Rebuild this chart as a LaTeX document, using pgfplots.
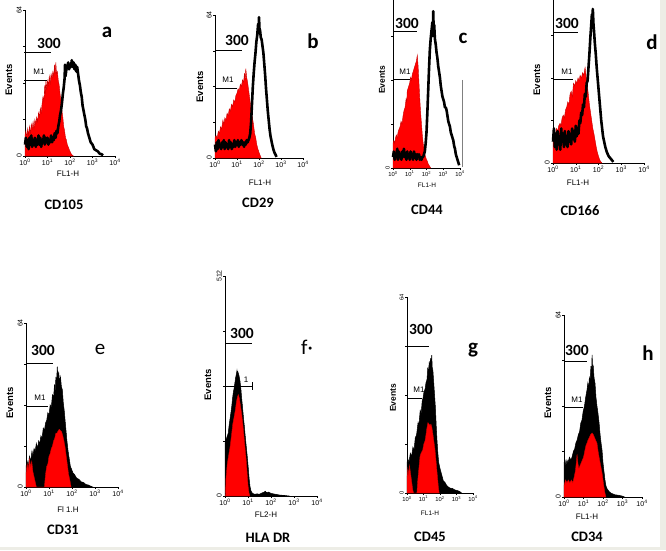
\documentclass[border=0pt]{standalone}
\usepackage{pgfplots}
\pgfplotsset{compat=1.18}
\usepackage{fontspec}
\setmainfont{Carlito}
\newfontfamily\arial{Liberation Sans}

\definecolor{edge}{HTML}{EDEDE6}

\pgfplotsset{
  flow/.style={
    scale only axis, anchor=south west,
    xmin=0, xmax=4, ymin=0, clip=false,
    axis x line*=bottom, axis y line*=left,
    axis line style={line width=0.8pt},
    xtick={0,1,2,3,4},
    xticklabels={10\textsuperscript{0},10\textsuperscript{1},10\textsuperscript{2},10\textsuperscript{3},10\textsuperscript{4}},
    ytick={0,16,32,48,64}, yticklabels={0,,,,64},
    tick style={black, line width=0.5pt},
    major tick length=2pt, tick align=outside,
    xticklabel style={font=\arial\fontsize{7}{8}\selectfont, inner sep=1pt},
    yticklabel style={font=\arial\fontsize{7}{8}\selectfont, rotate=90, anchor=south, inner sep=1pt},
  },
  smallticks/.style={
    xticklabel style={font=\arial\fontsize{5.8}{6.5}\selectfont},
    yticklabel style={font=\arial\fontsize{5.8}{6.5}\selectfont},
  },
  redh/.style={fill=red, draw=red!80!black, line width=0.4pt},
  blkline/.style={black, line width=2.6pt, line join=round},
  blkfill/.style={fill=black, draw=black, line width=0.5pt},
}

% text helpers, positions in pixels from the top left
\newcommand\cdlab[3]{\node[font=\bfseries\fontsize{14.5}{16}\selectfont] at (#1,{550-#2}) {#3};}
\newcommand\hund[5]{\draw[line width=1pt] (#1,{550-#3}) -- (#2,{550-#3});
  \node[font=\bfseries\fontsize{15.5}{17}\selectfont] at (#4,{550-#5}) {300};}
\newcommand\mone[5]{\draw[line width=0.8pt] (#1,{550-#3}) -- (#2,{550-#3});
  \node[font=\arial\fontsize{8}{9}\selectfont] at (#4,{550-#5}) {M1};}
\newcommand\plet[4]{\node[font=#4\fontsize{21}{23}\selectfont] at (#1,{550-#2}) {#3};}
\newcommand\evt[3]{\node[rotate=90,font=\arial\bfseries\fontsize{#3}{10}\selectfont] at (#1,{550-#2}) {Events};}
\newcommand\flh[4]{\node[font=\arial\fontsize{#4}{9}\selectfont] at (#1,{550-#2}) {#3};}

\begin{document}
\begin{tikzpicture}[x=1pt,y=1pt]
\useasboundingbox (0,0) rectangle (666,550);
\clip (0,0) rectangle (666,550);
\fill[white] (0,0) rectangle (666,550);
\fill[edge] (660,0) rectangle (666,550);
\fill[edge] (0,0) rectangle (666,3.5);

% ---------- a: CD105
\begin{axis}[flow, at={(25pt,394pt)}, width=90pt, height=146pt, ymax=64]
\addplot[redh] coordinates {(0,0)(0,9)(0.04,11)(0.08,8)(0.12,12)(0.16,9)(0.2,13)(0.24,10)(0.28,14)(0.32,12)(0.36,15)(0.4,12)(0.44,16)(0.48,14)(0.52,17)(0.56,15)(0.6,19)(0.64,17)(0.68,21)(0.72,19)(0.76,23)(0.8,26)(0.84,24)(0.88,31)(0.9,27)(0.93,33)(0.97,29)(1.0,33)(1.04,31)(1.08,35)(1.12,32)(1.16,36)(1.2,34)(1.24,37)(1.28,35)(1.31,40)(1.34,36)(1.37,41)(1.4,36)(1.44,37)(1.48,33)(1.52,31)(1.56,27)(1.6,24)(1.64,20)(1.68,17)(1.72,13)(1.76,11)(1.8,8)(1.84,7)(1.88,5)(1.92,4)(1.96,3)(2.0,2)(2.05,1)(2.1,0.4)(2.15,0)} \closedcycle;
\addplot[blkline] coordinates {(0,5)(0.04,8)(0.08,4)(0.12,7)(0.16,3)(0.2,8)(0.24,5)(0.28,9)(0.32,4)(0.36,7)(0.4,5)(0.44,8)(0.48,4)(0.52,7)(0.56,5)(0.6,9)(0.64,5)(0.68,8)(0.72,4)(0.76,7)(0.8,6)(0.84,9)(0.88,5)(0.92,8)(0.96,6)(1.0,8)(1.04,5)(1.08,7)(1.12,6)(1.16,9)(1.2,6)(1.24,8)(1.28,7)(1.32,10)(1.36,8)(1.4,11)(1.44,10)(1.48,13)(1.52,15)(1.56,18)(1.6,20)(1.64,23)(1.68,27)(1.72,30)(1.76,34)(1.78,40)(1.8,35)(1.84,38)(1.88,39)(1.92,41)(1.96,38)(2.0,40)(2.04,39)(2.08,42)(2.12,39)(2.16,41)(2.2,38)(2.24,40)(2.28,37)(2.32,39)(2.36,36)(2.4,33)(2.44,31)(2.48,28)(2.52,26)(2.56,22)(2.6,20)(2.64,18)(2.68,16)(2.72,13)(2.76,12)(2.8,10)(2.86,8)(2.92,6)(3.0,5)(3.08,3)(3.16,2.5)(3.24,2)(3.32,1)(3.4,0.8)(3.47,0.3)};
\end{axis}

% ---------- b: CD29
\begin{axis}[flow, at={(215pt,392pt)}, width=88pt, height=143pt, ymax=64]
\addplot[redh] coordinates {(0,0)(0,9)(0.05,10)(0.1,9)(0.15,12)(0.2,11)(0.25,14)(0.3,13)(0.36,17)(0.4,15)(0.45,18)(0.5,17)(0.55,20)(0.6,19)(0.65,22)(0.7,21)(0.75,24)(0.8,23)(0.85,26)(0.9,25)(0.95,28)(1.0,29)(1.05,31)(1.1,30)(1.15,33)(1.2,32)(1.25,35)(1.3,34)(1.34,38)(1.37,35)(1.4,40)(1.44,36)(1.48,34)(1.52,31)(1.56,28)(1.6,25)(1.65,21)(1.7,18)(1.75,15)(1.8,11)(1.85,9)(1.9,6)(1.95,4)(2.0,2.5)(2.05,1.2)(2.1,0)} \closedcycle;
\addplot[blkline] coordinates {(0,6)(0.04,3)(0.08,7)(0.12,4)(0.16,8)(0.2,5)(0.24,6)(0.28,4)(0.32,7)(0.36,5)(0.4,8)(0.44,4)(0.48,7)(0.52,5)(0.56,6)(0.6,4)(0.64,8)(0.68,5)(0.72,7)(0.76,4)(0.8,6)(0.84,5)(0.88,8)(0.92,5)(0.96,7)(1.0,6)(1.04,8)(1.08,5)(1.12,7)(1.16,6)(1.2,8)(1.24,6)(1.28,7)(1.32,5)(1.36,7)(1.4,6)(1.44,8)(1.48,7)(1.52,8)(1.56,9)(1.6,11)(1.64,16)(1.68,24)(1.72,32)(1.76,38)(1.8,43)(1.84,47)(1.88,52)(1.92,55)(1.96,60)(1.98,56)(2.0,63)(2.02,58)(2.05,57)(2.08,54)(2.12,53)(2.16,50)(2.2,47)(2.24,42)(2.28,37)(2.32,31)(2.36,26)(2.4,21)(2.44,17)(2.48,13)(2.52,10)(2.56,8)(2.6,6)(2.65,4)(2.7,2.5)(2.75,1.5)(2.8,0.5)};
\end{axis}

% ---------- c: CD44 (top runs off the page)
\begin{axis}[flow, smallticks, at={(393pt,382pt)}, width=67pt, height=176pt, ymax=64, yticklabels={0}]
\addplot[redh] coordinates {(0,0)(0,9)(0.05,10)(0.1,9)(0.15,11)(0.2,12)(0.25,11)(0.3,13)(0.35,14)(0.42,15)(0.48,17)(0.54,16)(0.6,19)(0.66,21)(0.72,22)(0.78,25)(0.82,24)(0.85,28)(0.9,29)(0.95,30)(1.0,31)(1.05,33)(1.1,32)(1.15,34)(1.2,35)(1.25,36)(1.3,37)(1.35,38)(1.4,39)(1.45,41)(1.5,37)(1.55,31)(1.6,25)(1.65,20)(1.7,16)(1.75,12)(1.8,9)(1.85,7)(1.9,5)(1.95,4)(2.0,3)(2.05,2.5)(2.1,1.5)(2.15,1)(2.2,0.5)(2.25,0)} \closedcycle;
\addplot[blkline] coordinates {(0,4)(0.05,6)(0.1,3)(0.15,5)(0.2,4)(0.25,7)(0.3,3)(0.35,6)(0.4,4)(0.45,5)(0.5,3)(0.55,6)(0.6,4)(0.65,7)(0.7,4)(0.75,5)(0.8,3)(0.85,6)(0.9,4)(0.95,5)(1.0,3)(1.05,6)(1.1,4)(1.15,5)(1.2,3)(1.25,6)(1.3,4)(1.35,5)(1.4,3)(1.45,5)(1.5,4)(1.55,5)(1.6,3)(1.65,4)(1.7,3)(1.75,4)(1.8,4)(1.85,5)(1.9,6)(1.95,9)(2.0,13)(2.05,20)(2.1,28)(2.15,36)(2.2,43)(2.25,47)(2.3,50)(2.35,53)(2.38,48)(2.4,57)(2.43,50)(2.46,52)(2.5,47)(2.55,45)(2.6,42)(2.65,40)(2.7,37)(2.75,35)(2.8,33)(2.85,30)(2.9,28)(2.95,26)(3.0,25)(3.05,24)(3.1,22)(3.15,22)(3.2,21)(3.25,19)(3.3,17)(3.35,16)(3.4,15)(3.45,13)(3.5,12)(3.55,11)(3.6,10)(3.65,8)(3.7,7)(3.75,5)(3.8,4)(3.85,3)(3.9,2)(3.95,1)};
\end{axis}

% ---------- d: CD166 (top runs off the page)
\begin{axis}[flow, at={(553pt,387pt)}, width=91pt, height=170pt, ymax=64, yticklabels={0}]
\addplot[redh] coordinates {(0,0)(0,11)(0.05,12)(0.1,10)(0.15,13)(0.2,12)(0.25,14)(0.31,15)(0.35,14)(0.4,17)(0.45,18)(0.5,17)(0.55,20)(0.6,21)(0.65,23)(0.7,22)(0.75,26)(0.8,27)(0.85,25)(0.9,30)(0.95,29)(1.0,31)(1.05,30)(1.1,32)(1.15,31)(1.19,33)(1.25,32)(1.3,34)(1.35,33)(1.41,36)(1.45,33)(1.5,30)(1.55,26)(1.6,22)(1.65,19)(1.7,16)(1.75,13)(1.8,11)(1.85,8.5)(1.9,6)(1.95,4)(2.0,2.5)(2.05,1.2)(2.1,0.5)(2.15,0)} \closedcycle;
\addplot[blkline] coordinates {(0,8)(0.04,13)(0.08,6)(0.12,11)(0.16,5)(0.2,12)(0.24,7)(0.28,10)(0.32,5)(0.36,13)(0.4,8)(0.44,11)(0.48,6)(0.52,12)(0.56,7)(0.6,10)(0.64,6)(0.68,12)(0.72,8)(0.76,11)(0.8,7)(0.84,13)(0.88,9)(0.92,12)(0.96,8)(1.0,14)(1.04,10)(1.08,13)(1.12,11)(1.16,16)(1.2,15)(1.24,19)(1.28,18)(1.32,22)(1.36,21)(1.4,26)(1.44,25)(1.48,30)(1.52,31)(1.56,36)(1.6,41)(1.64,47)(1.68,52)(1.71,56)(1.73,51)(1.75,58)(1.78,52)(1.8,50)(1.84,45)(1.88,41)(1.92,36)(1.96,32)(2.0,28)(2.04,24)(2.08,20)(2.12,16)(2.16,13)(2.2,10)(2.25,8)(2.3,6)(2.37,4)(2.45,2.5)(2.55,1.5)(2.65,0.4)};
\end{axis}

% ---------- e: CD31
\begin{axis}[flow, at={(26pt,63pt)}, width=92pt, height=164pt, ymax=64]
\addplot[blkfill] coordinates {(0,0)(0,8)(0.05,10)(0.1,8)(0.15,12)(0.2,10)(0.26,14)(0.3,12)(0.35,15)(0.4,14)(0.45,17)(0.5,15)(0.55,18)(0.6,17)(0.65,20)(0.7,19)(0.75,23)(0.8,22)(0.85,25)(0.9,26)(0.95,29)(1.0,28)(1.05,32)(1.1,31)(1.15,36)(1.2,35)(1.24,40)(1.27,37)(1.3,43)(1.33,41)(1.36,47)(1.39,42)(1.42,45)(1.46,41)(1.5,43)(1.54,39)(1.58,38)(1.62,33)(1.66,30)(1.7,26)(1.74,22)(1.78,18)(1.83,14)(1.88,11)(1.93,8)(1.98,7)(2.04,5.5)(2.1,5)(2.2,3.5)(2.3,3)(2.4,2)(2.5,1.8)(2.6,1)(2.7,0.8)(2.8,0.4)(2.9,0)} \closedcycle;
\addplot[redh] coordinates {(0,0)(0,5)(0.05,9)(0.1,7)(0.15,11)(0.2,8)(0.25,10)(0.3,6)(0.35,4)(0.4,2)(0.45,0)(0.8,0)(0.85,5)(0.9,8)(0.95,9)(1.0,12)(1.05,13)(1.1,15)(1.15,16)(1.2,18)(1.25,19)(1.3,21)(1.35,21)(1.4,22)(1.45,22.5)(1.5,22)(1.55,21.5)(1.6,20)(1.65,18)(1.7,15.5)(1.75,12)(1.8,8.5)(1.85,5)(1.9,3)(1.96,0)} \closedcycle;
\end{axis}

% ---------- f: HLA DR
\begin{axis}[flow, at={(225pt,54pt)}, width=92pt, height=220pt, ymax=512,
  ytick={0,128,256,384,512}, yticklabels={0,,,,512}]
\addplot[blkfill] coordinates {(0,0)(0,123)(0.04,130)(0.07,135)(0.1,140)(0.14,146)(0.18,165)(0.22,180)(0.26,195)(0.29,207)(0.33,228)(0.36,240)(0.4,252)(0.43,263)(0.46,275)(0.48,280)(0.5,285)(0.52,292)(0.54,282)(0.56,289)(0.58,285)(0.61,280)(0.65,268)(0.69,250)(0.72,230)(0.76,208)(0.8,184)(0.84,163)(0.87,145)(0.9,128)(0.94,107)(0.98,85)(1.02,60)(1.05,40)(1.09,21)(1.13,12)(1.17,8)(1.23,5)(1.3,4)(1.4,5)(1.5,4)(1.6,7)(1.7,9)(1.75,11)(1.8,8)(1.9,9)(2.0,6)(2.1,5)(2.2,4)(2.3,3)(2.4,2)(2.55,1.5)(2.7,0.5)(2.8,0)} \closedcycle;
\addplot[redh] coordinates {(0.02,0)(0.04,40)(0.1,75)(0.16,95)(0.22,114)(0.28,140)(0.34,168)(0.4,185)(0.45,200)(0.5,220)(0.55,232)(0.58,236)(0.62,228)(0.66,215)(0.72,193)(0.78,165)(0.84,130)(0.88,107)(0.92,85)(0.96,55)(1.0,25)(1.04,8)(1.08,0)} \closedcycle;
\end{axis}

% ---------- g: CD45
\begin{axis}[flow, smallticks, at={(407pt,57pt)}, width=66pt, height=196pt, ymax=64]
\addplot[blkfill] coordinates {(0,0)(0,10)(0.06,11)(0.12,10)(0.2,13)(0.28,12)(0.36,15)(0.43,14)(0.5,18)(0.58,19)(0.67,23)(0.72,22)(0.8,27)(0.86,26)(0.92,30)(0.97,31)(1.03,33)(1.1,34)(1.15,36)(1.21,37)(1.26,41)(1.3,39)(1.35,43)(1.39,41)(1.43,44)(1.46,42)(1.5,45)(1.53,41)(1.57,40)(1.62,36)(1.67,32)(1.72,28)(1.77,22)(1.82,17)(1.87,13)(1.92,10)(2.0,8)(2.1,6)(2.2,4)(2.3,3.5)(2.4,2.5)(2.5,2)(2.6,1.6)(2.75,1.5)(2.9,1)(3.05,0.8)(3.2,0.5)(3.3,0)} \closedcycle;
\addplot[redh] coordinates {(0,0)(0,5)(0.05,8)(0.1,6)(0.15,9)(0.2,7)(0.25,5)(0.3,3)(0.35,1)(0.4,0)(0.6,0)(0.65,4)(0.72,8)(0.79,12)(0.85,13)(0.95,14)(1.02,16)(1.09,17)(1.15,19)(1.2,21)(1.27,23)(1.33,22.5)(1.4,22)(1.45,22.5)(1.5,21.6)(1.55,20)(1.6,18)(1.65,16)(1.7,14)(1.75,11)(1.8,8)(1.85,5)(1.9,2)(1.95,0)} \closedcycle;
\end{axis}

% ---------- h: CD34
\begin{axis}[flow, at={(564pt,53pt)}, width=78pt, height=182pt, ymax=64]
\addplot[blkfill] coordinates {(0,0)(0,12)(0.05,13)(0.1,11)(0.15,13)(0.2,12)(0.28,14)(0.35,13)(0.41,14)(0.48,16)(0.55,17)(0.61,19)(0.67,20)(0.74,22)(0.8,23)(0.86,26)(0.92,27)(0.98,30)(1.05,32)(1.11,35)(1.18,37.7)(1.22,40)(1.26,38)(1.3,42)(1.34,41)(1.38,46)(1.41,43)(1.44,50)(1.47,45)(1.5,46)(1.54,42)(1.59,40)(1.64,35)(1.69,32)(1.74,29.6)(1.8,26)(1.85,22)(1.9,19)(1.95,16.5)(2.0,12)(2.05,9)(2.1,6)(2.15,4)(2.2,3)(2.3,2)(2.4,1.4)(2.6,0.8)(2.8,0.6)(3.0,0.3)(3.1,0)} \closedcycle;
\addplot[redh] coordinates {(0,0)(0,4)(0.08,6)(0.15,5)(0.22,6)(0.3,5)(0.38,6)(0.45,5)(0.52,7)(0.58,9)(0.63,12)(0.67,15)(0.71,12)(0.76,10)(0.82,11)(0.88,12)(0.94,13)(1.0,14)(1.06,16)(1.12,18)(1.18,19)(1.23,20)(1.3,21)(1.37,22)(1.44,22.5)(1.5,22)(1.56,21)(1.62,20)(1.69,19)(1.75,16)(1.8,14)(1.88,11)(1.95,8.5)(2.0,6)(2.05,3.5)(2.1,1.4)(2.15,0)} \closedcycle;
\end{axis}

% ---------- annotations (pixel positions)
\hund{24}{51}{53}{49}{43}   \mone{24}{47}{80}{39}{72}
\hund{215}{242}{51}{237}{40} \mone{215}{237}{88}{228}{80}
\hund{393}{417}{32}{407}{23} \mone{393}{410}{79}{405}{72}
\hund{553}{578}{33}{567}{23} \mone{553}{573}{79}{567}{72}
\hund{26}{53}{363}{43}{350}  \mone{26}{48}{406}{40}{398}
\hund{225}{252}{343}{242}{333}
\hund{407}{429}{346}{421}{329} \mone{407}{422}{398}{419}{390}
\hund{564}{587}{361}{577}{350} \mone{564}{583}{407}{577}{400}
% f marker
\draw[line width=0.8pt] (225,{550-386}) -- (252,{550-386});
\draw[line width=0.8pt] (252,{550-382}) -- (252,{550-390});
\node[font=\arial\fontsize{8}{9}\selectfont] at (246,{550-380}) {1};
% stray gray line in c
\draw[gray, line width=0.8pt] (462,{550-80}) -- (462,{550-167});

\plet{107}{32}{a}{\bfseries} \plet{313}{41}{b}{\bfseries}
\plet{463}{38}{c}{\bfseries} \plet{652}{42}{d}{\bfseries}
\plet{100}{349}{e}{} \plet{307}{347}{f\textperiodcentered}{}
\plet{473}{350}{g}{\bfseries} \plet{648}{353}{h}{\bfseries}

\evt{9}{80}{9.5} \evt{200}{87}{9.5} \evt{382}{80}{8.5} \evt{537}{80}{9.5}
\evt{10}{403}{9.5} \evt{208}{385}{9.5} \evt{393}{398}{8.5} \evt{548}{403}{9.5}

\flh{68}{174}{FL1-H}{8} \flh{260}{183}{FL1-H}{8} \flh{427}{185}{FL1-H}{6.5} \flh{578}{183}{FL1-H}{8}
\flh{68}{510}{Fl 1.H}{8} \flh{266}{515}{FL2-H}{8} \flh{430}{513}{FL1-H}{6.5} \flh{587}{517}{FL1-H}{8}

\cdlab{64}{205}{CD105} \cdlab{258}{203}{CD29} \cdlab{427}{210}{CD44} \cdlab{580}{211}{CD166}
\cdlab{63}{530}{CD31} \cdlab{268}{538}{HLA DR} \cdlab{430}{537}{CD45} \cdlab{587}{537}{CD34}
\end{tikzpicture}
\end{document}
